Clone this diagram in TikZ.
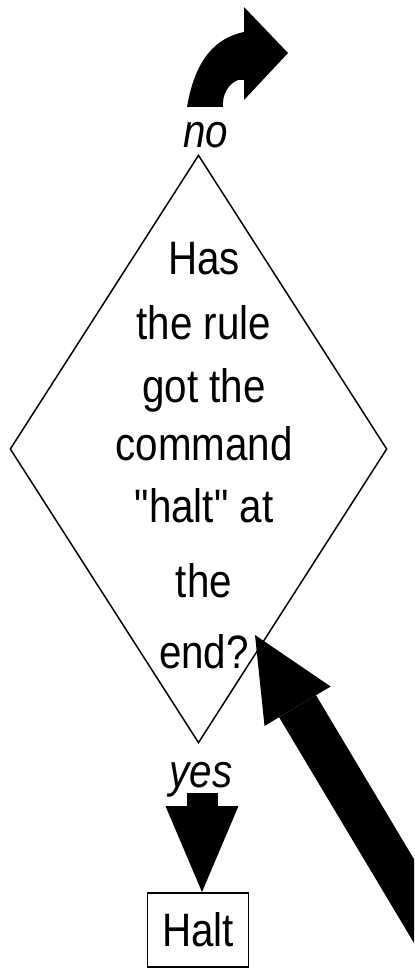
\documentclass[tikz,border=0pt]{standalone}
\usepackage{fontspec}
\setmainfont{Liberation Sans}[FakeStretch=0.86, Ligatures=TeXOff]
\usetikzlibrary{arrows.meta,shapes.geometric}

\begin{document}
\begin{tikzpicture}[
  x=0.02cm, y=-0.02cm,
  qtext/.style={font=\fontsize{26.7}{32}\selectfont, anchor=base, inner sep=0pt},
  answer/.style={font=\fontsize{26.7}{32}\selectfont\itshape, anchor=base, inner sep=0pt},
  decision/.style={draw, diamond, line width=0.85pt, inner sep=0pt, minimum width=7.54cm, minimum height=11.76cm},
  stopbox/.style={draw, rectangle, line width=1.1pt, minimum width=2.02cm, minimum height=1.48cm, font=\fontsize{26.7}{32}\selectfont},
  flow/.style={line width=0.62cm, -{Triangle[width=1.46cm, length=1.72cm, line width=0pt]}},
  back/.style={line width=0.86cm, -{Triangle[width=1.54cm, length=1.66cm, line width=0pt]}}
]
\path[use as bounding box] (0,0) rectangle (414,973);

% Decision diamond and its question
\node[decision] (check) at (198.5,449) {};
\foreach \txt/\y [count=\i] in {Has/275, the rule/339, got the/402, command/460, "halt" at/522, the/597, end?/668}
  \node[qtext] (line\i) at (204,\y) {\txt};

% Answers
\node[answer] (no) at (206,148) {no};
\node[answer] (yes) at (201,787) {yes};

% Halt box
\node[stopbox] (halt) at (198,930) {Halt};

% yes arrow
\coordinate (yesfoot) at (202,793);
\draw[flow] (yesfoot) -- (yesfoot |- halt.north);

% no arrow, bent to the right
\fill (187,107) .. controls (195,60) and (215,38) .. (244,32) -- (244,7) -- (288,53)
  -- (244,100) -- (244,80) -- (238,80) .. controls (228,84) and (222,95) .. (223,107) -- cycle;

% arrow coming back into the diamond
\begin{scope}
  \clip (0,0) rectangle (414,973);
  \coordinate (loopin) at (255,635);
  \coordinate (loopout) at (500,1045);
  \draw[back] (loopout) -- (loopin);
\end{scope}

\end{tikzpicture}
\end{document}
